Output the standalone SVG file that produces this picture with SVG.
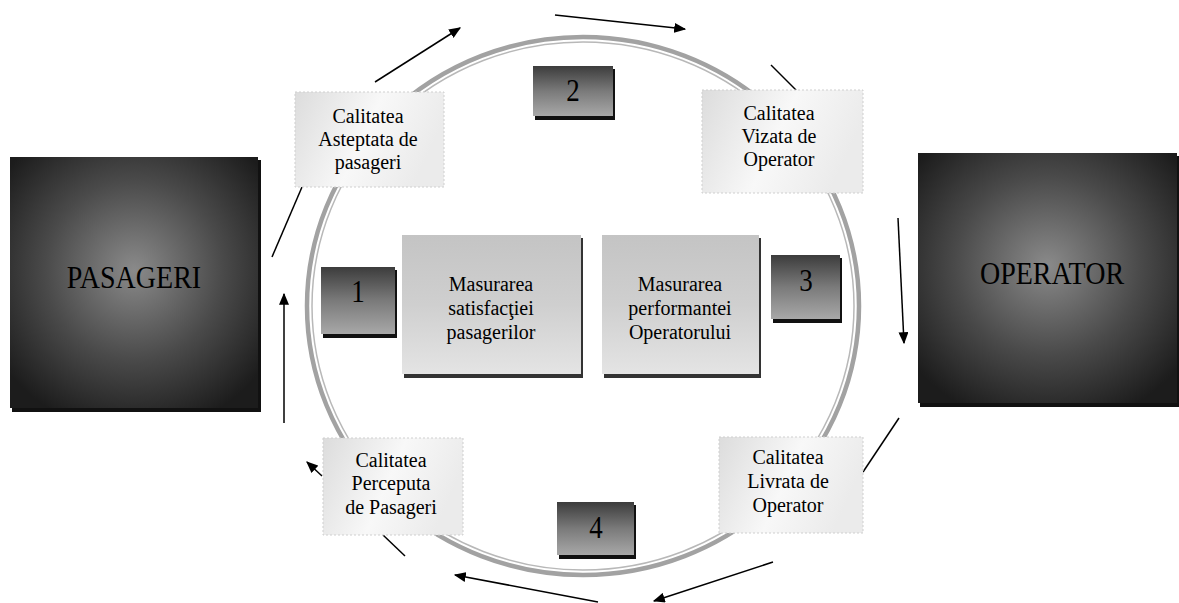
<svg xmlns="http://www.w3.org/2000/svg" width="1179" height="603" viewBox="0 0 1179 603">
<defs>
<radialGradient id="gBig" cx="0.5" cy="0.45" r="0.65">
<stop offset="0" stop-color="#8a8a8a"/>
<stop offset="0.55" stop-color="#4a4a4a"/>
<stop offset="1" stop-color="#1c1c1c"/>
</radialGradient>
<linearGradient id="gNum" x1="0" y1="0" x2="0" y2="1">
<stop offset="0" stop-color="#3c3c3c"/>
<stop offset="0.5" stop-color="#7a7a7a"/>
<stop offset="1" stop-color="#a8a8a8"/>
</linearGradient>
<linearGradient id="gMid" x1="0" y1="0" x2="0" y2="1">
<stop offset="0" stop-color="#c4c4c4"/>
<stop offset="0.5" stop-color="#cfcfcf"/>
<stop offset="1" stop-color="#e4e4e4"/>
</linearGradient>
<linearGradient id="gCal" x1="0" y1="0" x2="1" y2="0.3">
<stop offset="0" stop-color="#dcdcdc"/>
<stop offset="0.55" stop-color="#f8f8f8"/>
<stop offset="1" stop-color="#ebebeb"/>
</linearGradient>
<marker id="ah" viewBox="0 0 10 10" refX="9" refY="5" markerWidth="12" markerHeight="10" markerUnits="userSpaceOnUse" orient="auto" preserveAspectRatio="none">
<path d="M0,0 L10,5 L0,10 z" fill="#000"/>
</marker>
</defs>
<style>
.big{fill:url(#gBig)}
.shadow{fill:#111}
.num{fill:url(#gNum)}
.mid{fill:url(#gMid)}
.cal{fill:url(#gCal);stroke:#cfcfcf;stroke-width:1;stroke-dasharray:2 2}
.t{font-family:"Liberation Serif","Times New Roman",serif;fill:#000;text-anchor:middle;transform-box:fill-box;transform-origin:center}
.tb{font-size:28px;transform:scaleY(1.1)}
.tc{font-size:20px}
.tn{font-size:27px;transform:scaleY(1.15)}
.ln{stroke:#000;stroke-width:1.5;fill:none}
.ar{stroke:#000;stroke-width:1.5;fill:none;marker-end:url(#ah)}
</style>
<rect width="1179" height="603" fill="#fff"/>

<g id="ring">
<ellipse cx="583" cy="306" rx="276" ry="269" fill="none" stroke="#a2a2a2" stroke-width="4.5"/>
<ellipse cx="583" cy="306" rx="271" ry="264" fill="none" stroke="#b8b8b8" stroke-width="1.5"/>
</g>

<g id="connectors">
<line class="ln" x1="272" y1="257" x2="302" y2="187"/>
<line class="ar" x1="375" y1="82" x2="460" y2="28"/>
<line class="ar" x1="555" y1="15" x2="685" y2="29"/>
<line class="ln" x1="771" y1="65" x2="796" y2="90"/>
<line class="ar" x1="898" y1="218" x2="904" y2="343"/>
<line class="ln" x1="899" y1="418" x2="863" y2="472"/>
<line class="ar" x1="773" y1="562" x2="654" y2="601"/>
<line class="ar" x1="598" y1="602" x2="455" y2="575"/>
<line class="ln" x1="383" y1="535" x2="405" y2="556"/>
<line class="ar" x1="322" y1="476" x2="307" y2="462"/>
<line class="ar" x1="284" y1="423" x2="284" y2="294"/>
</g>

<g id="pasageri">
<rect class="shadow" x="12" y="160" width="249" height="252"/>
<rect class="big" x="10" y="157" width="248" height="251"/>
<text class="t tb" x="134" y="287">PASAGERI</text>
</g>

<g id="operator">
<rect class="shadow" x="920" y="156" width="259" height="251"/>
<rect class="big" x="918" y="153" width="259" height="250"/>
<text class="t tb" x="1052" y="283">OPERATOR</text>
</g>

<g id="cal-asteptata">
<rect class="cal" x="295" y="92" width="149" height="95"/>
<text class="t tc" x="368" y="123">Calitatea</text>
<text class="t tc" x="368" y="146">Asteptata de</text>
<text class="t tc" x="368" y="169">pasageri</text>
</g>

<g id="cal-vizata">
<rect class="cal" x="702" y="90" width="161" height="103"/>
<text class="t tc" x="779" y="120">Calitatea</text>
<text class="t tc" x="779" y="143">Vizata de</text>
<text class="t tc" x="779" y="166">Operator</text>
</g>

<g id="cal-perceputa">
<rect class="cal" x="323" y="438" width="140" height="97"/>
<text class="t tc" x="391" y="467">Calitatea</text>
<text class="t tc" x="391" y="490">Perceputa</text>
<text class="t tc" x="391" y="514">de Pasageri</text>
</g>

<g id="cal-livrata">
<rect class="cal" x="719" y="437" width="144" height="96"/>
<text class="t tc" x="788" y="464">Calitatea</text>
<text class="t tc" x="788" y="488">Livrata de</text>
<text class="t tc" x="788" y="512">Operator</text>
</g>

<g id="num1">
<rect class="shadow" x="323" y="270" width="74" height="68"/>
<rect class="num" x="321" y="267" width="74" height="67"/>
<text class="t tn" x="358" y="301">1</text>
</g>

<g id="num2">
<rect class="shadow" x="535" y="69" width="80" height="51"/>
<rect class="num" x="533" y="66" width="80" height="50"/>
<text class="t tn" x="573" y="100">2</text>
</g>

<g id="num3">
<rect class="shadow" x="773" y="258" width="69" height="65"/>
<rect class="num" x="771" y="255" width="69" height="64"/>
<text class="t tn" x="806" y="290">3</text>
</g>

<g id="num4">
<rect class="shadow" x="559" y="505" width="77" height="54"/>
<rect class="num" x="557" y="502" width="77" height="53"/>
<text class="t tn" x="596" y="537">4</text>
</g>

<g id="mas-satisfactie">
<rect fill="#333" x="404" y="238" width="179" height="140"/>
<rect class="mid" x="402" y="235" width="179" height="139"/>
<text class="t tc" x="491" y="291">Masurarea</text>
<text class="t tc" x="491" y="315">satisfacţiei</text>
<text class="t tc" x="491" y="339">pasagerilor</text>
</g>

<g id="mas-performanta">
<rect fill="#333" x="604" y="238" width="157" height="140"/>
<rect class="mid" x="602" y="235" width="157" height="139"/>
<text class="t tc" x="680" y="291">Masurarea</text>
<text class="t tc" x="680" y="315">performantei</text>
<text class="t tc" x="680" y="339">Operatorului</text>
</g>
</svg>
